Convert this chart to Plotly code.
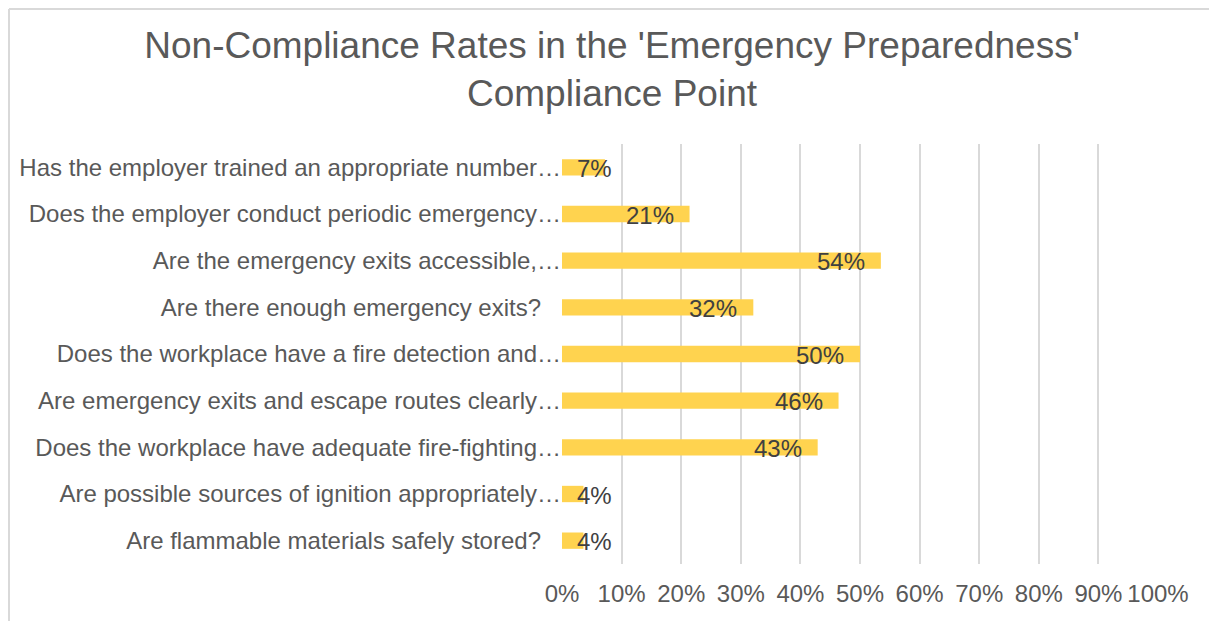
import plotly.graph_objects as go

categories = [
    "Has the employer trained an appropriate number…",
    "Does the employer conduct periodic emergency…",
    "Are the emergency exits accessible,…",
    "Are there enough emergency exits?",
    "Does the workplace have a fire detection and…",
    "Are emergency exits and escape routes clearly…",
    "Does the workplace have adequate fire-fighting…",
    "Are possible sources of ignition appropriately…",
    "Are flammable materials safely stored?",
]
values = [0.072, 0.214, 0.535, 0.321, 0.500, 0.464, 0.429, 0.036, 0.036]
tick_values = [0, 0.1, 0.2, 0.3, 0.4, 0.5, 0.6, 0.7, 0.8, 0.9, 1.0]
tick_labels = ["0%", "10%", "20%", "30%", "40%", "50%", "60%", "70%", "80%", "90%", "100%"]
title_text = "Non-Compliance Rates in the 'Emergency Preparedness'<br>Compliance Point"

FONT = "Liberation Sans, Arial, sans-serif"
GREY = "#595959"
FS = 24

# truncated labels (ending with an ellipsis) run up to the axis; full ones keep a gap
cat_ticktext = [c if c.endswith("…") else c + "&nbsp;&nbsp;&nbsp;" for c in categories]

fig = go.Figure()
fig.add_trace(go.Bar(
    y=categories,
    x=values,
    orientation="h",
    marker=dict(color="#FFD34F", line=dict(width=0)),
    width=0.35,
    hoverinfo="x+y",
))

for cat, v in zip(categories, values):
    label = f"{round(v * 100):.0f}%"
    if v < 0.1:
        fig.add_annotation(x=0, y=cat, text=label, showarrow=False,
                           xanchor="left", xshift=13, yshift=-1,
                           font=dict(family=FONT, size=FS, color="#404040"))
    else:
        fig.add_annotation(x=v, y=cat, text=label, showarrow=False,
                           xanchor="right", xshift=-14, yshift=-1,
                           font=dict(family=FONT, size=FS, color="#404040"))

# chart frame (light grey): left and top edges visible in the crop
x_left = (1 - 554) / 596
y_top = 1 + (136 - 1) / 420
fig.add_shape(type="line", xref="paper", yref="paper",
              x0=x_left, x1=x_left, y0=-0.3, y1=y_top,
              line=dict(color="#D9D9D9", width=2), layer="below")
fig.add_shape(type="line", xref="paper", yref="paper",
              x0=x_left, x1=1.2, y0=y_top, y1=y_top,
              line=dict(color="#D9D9D9", width=2), layer="below")

fig.update_layout(
    width=1209, height=613,
    margin=dict(l=554, r=59, t=136, b=57),
    paper_bgcolor="white", plot_bgcolor="white",
    showlegend=False,
    title=dict(text=title_text, x=604 / 1209, xref="container", xanchor="center",
               y=1 - 50 / 613, yanchor="top",
               font=dict(family=FONT, size=37, color=GREY)),
    font=dict(family=FONT, size=FS, color=GREY),
)
fig.update_xaxes(range=[0, 1.0], tickvals=tick_values, ticktext=tick_labels,
                 showgrid=True, gridcolor="#D9D9D9", gridwidth=2,
                 zeroline=False, showline=False, ticks="",
                 tickfont=dict(family=FONT, size=FS, color=GREY),
                 ticklabelstandoff=13)
fig.update_yaxes(autorange="reversed", showgrid=False, zeroline=False,
                 showline=False, ticks="",
                 tickmode="array", tickvals=categories, ticktext=cat_ticktext,
                 tickfont=dict(family=FONT, size=FS, color=GREY))

fig.write_html("out.html")
